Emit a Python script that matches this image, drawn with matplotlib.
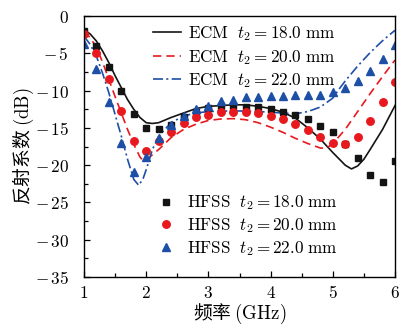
import matplotlib
matplotlib.use('Agg')
import matplotlib.pyplot as plt
from matplotlib.ticker import MultipleLocator, FuncFormatter

plt.rcParams['mathtext.fontset'] = 'cm'
plt.rcParams['font.family'] = ['Noto Sans CJK SC', 'DejaVu Sans']

# HFSS simulated points
freq_hfss = [1.0, 1.2, 1.4, 1.6, 1.8, 2.0, 2.2, 2.4, 2.6, 2.8, 3.0, 3.2, 3.4,
             3.6, 3.8, 4.0, 4.2, 4.4, 4.6, 4.8, 5.0, 5.2, 5.4, 5.6, 5.8, 6.0]
hfss_18 = [-2.0, -4.0, -6.8, -10.0, -13.1, -15.0, -15.1, -14.6, -13.5, -12.8, -12.3, -12.1, -12.1,
           -12.2, -12.2, -12.5, -12.8, -13.2, -13.8, -14.7, -15.6, -17.2, -19.0, -21.3, -22.2, -19.4]
hfss_20 = [-2.4, -5.0, -8.5, -12.7, -16.8, -18.1, -16.7, -15.5, -14.3, -13.6, -13.3, -12.9, -12.8,
           -12.9, -13.05, -13.4, -13.8, -14.5, -15.3, -16.2, -17.0, -17.2, -16.2, -14.1, -11.5, -8.9]
hfss_22 = [-3.75, -7.1, -11.5, -17.0, -20.9, -18.9, -16.4, -14.65, -13.4, -12.5, -12.0, -11.4, -11.2,
           -10.8, -10.8, -10.7, -10.7, -10.6, -10.6, -10.6, -10.2, -9.6, -8.7, -7.4, -5.8, -3.9]

# ECM curves
ecm18_f = [1.0, 1.1, 1.2, 1.3, 1.4, 1.5, 1.6, 1.7, 1.8, 1.9, 2.0, 2.1, 2.2, 2.4, 2.6, 2.8, 3.0,
           3.2, 3.4, 3.6, 3.8, 4.0, 4.2, 4.4, 4.6, 4.8, 5.0, 5.2, 5.3, 5.4, 5.5, 5.6, 5.8, 6.0]
ecm18 = [-1.8, -2.4, -3.35, -4.7, -6.25, -8.0, -9.6, -11.2, -12.5, -13.6, -14.3, -14.4, -14.3,
         -13.6, -13.0, -12.4, -12.1, -12.0, -11.9, -11.9, -12.1, -12.4, -12.9, -13.7, -15.0,
         -16.5, -18.3, -20.0, -20.5, -20.1, -19.2, -17.9, -15.2, -12.0]

ecm20_f = [1.0, 1.1, 1.2, 1.3, 1.4, 1.5, 1.6, 1.7, 1.8, 1.9, 1.95, 2.0, 2.1, 2.2, 2.4, 2.6, 2.8,
           3.0, 3.2, 3.4, 3.6, 3.8, 4.0, 4.2, 4.4, 4.6, 4.8, 4.9, 5.0, 5.2, 5.4, 5.6, 5.8, 6.0]
ecm20 = [-2.0, -2.9, -4.2, -6.2, -8.5, -10.8, -13.0, -15.2, -17.2, -18.9, -19.4, -19.3, -18.6,
         -17.9, -16.3, -15.2, -14.5, -14.0, -13.8, -13.75, -13.9, -14.3, -14.9, -15.6, -16.4,
         -17.1, -17.7, -17.7, -17.1, -15.2, -12.8, -10.4, -8.1, -5.9]

ecm22_f = [1.0, 1.1, 1.2, 1.3, 1.4, 1.5, 1.6, 1.7, 1.8, 1.88, 1.95, 2.0, 2.1, 2.2, 2.4, 2.6, 2.8,
           3.0, 3.4, 3.8, 4.2, 4.4, 4.6, 4.8, 5.0, 5.1, 5.2, 5.4, 5.6, 5.8, 6.0]
ecm22 = [-2.7, -3.8, -5.4, -7.7, -10.3, -13.2, -16.1, -19.2, -21.9, -22.7, -21.8, -20.6, -17.9,
         -16.1, -14.3, -13.4, -13.0, -12.8, -12.7, -12.8, -13.0, -13.1, -12.8, -12.2, -11.0,
         -9.8, -8.7, -6.7, -4.9, -3.3, -1.9]

ecm_labels = [r'$\mathrm{ECM}\ \ t_2\mathrm{=18.0\ mm}$',
              r'$\mathrm{ECM}\ \ t_2\mathrm{=20.0\ mm}$',
              r'$\mathrm{ECM}\ \ t_2\mathrm{=22.0\ mm}$']
hfss_labels = [r'$\mathrm{HFSS}\ \ t_2\mathrm{=18.0\ mm}$',
               r'$\mathrm{HFSS}\ \ t_2\mathrm{=20.0\ mm}$',
               r'$\mathrm{HFSS}\ \ t_2\mathrm{=22.0\ mm}$']

BLACK = '#141414'
RED = '#e8191e'
BLUE = '#1d4fa6'

fig = plt.figure(figsize=(4.0, 3.36), dpi=100)
ax = fig.add_axes([0.21, 0.1756, 0.7775, 0.7764])

l1, = ax.plot(ecm18_f, ecm18, color=BLACK, lw=1.2, ls='-')
l2, = ax.plot(ecm20_f, ecm20, color=RED, lw=1.2, ls=(0, (5, 3)))
l3, = ax.plot(ecm22_f, ecm22, color=BLUE, lw=1.2, ls=(0, (6, 2, 1.2, 2)))

m1, = ax.plot(freq_hfss, hfss_18, ls='none', marker='s', ms=4.8, color=BLACK)
m2, = ax.plot(freq_hfss, hfss_20, ls='none', marker='o', ms=5.4, color=RED)
m3, = ax.plot(freq_hfss, hfss_22, ls='none', marker='^', ms=6.2, color=BLUE)


def tick_fmt(v, p):
    n = int(round(v))
    if n < 0:
        return r'$-\,%d$' % (-n)
    return r'$%d$' % n


ax.set_xlim(1, 6)
ax.set_ylim(-35, 0)
ax.xaxis.set_major_locator(MultipleLocator(1))
ax.xaxis.set_minor_locator(MultipleLocator(0.5))
ax.yaxis.set_major_locator(MultipleLocator(5))
ax.yaxis.set_minor_locator(MultipleLocator(2.5))
ax.xaxis.set_major_formatter(FuncFormatter(tick_fmt))
ax.yaxis.set_major_formatter(FuncFormatter(tick_fmt))
ax.tick_params(which='both', direction='in', top=False, right=False, width=0.9, labelsize=12.3)
ax.tick_params(which='major', length=4)
ax.tick_params(which='minor', length=3)
ax.tick_params(axis='y', pad=11)
ax.tick_params(axis='x', pad=5)
for s in ax.spines.values():
    s.set_linewidth(1.0)

ax.set_xlabel(r'频率 $(\mathrm{GHz})$', fontsize=13.5, labelpad=0)
ax.set_ylabel(r'反射系数 $(\mathrm{dB})$', fontsize=13.5, labelpad=-1)

leg1 = ax.legend([l1, l2, l3], ecm_labels, loc='upper left', bbox_to_anchor=(0.211, 0.983),
                 frameon=False, fontsize=12.3, handlelength=1.65, handletextpad=0.4,
                 labelspacing=0.28, borderpad=0.2, borderaxespad=0)
ax.add_artist(leg1)
ax.legend([m1, m2, m3], hfss_labels, loc='upper left', bbox_to_anchor=(0.226, 0.333),
          frameon=False, fontsize=12.3, handlelength=1.0, handletextpad=0.7,
          labelspacing=0.22, borderpad=0.2, borderaxespad=0)

fig.savefig('out.png', dpi=100)
